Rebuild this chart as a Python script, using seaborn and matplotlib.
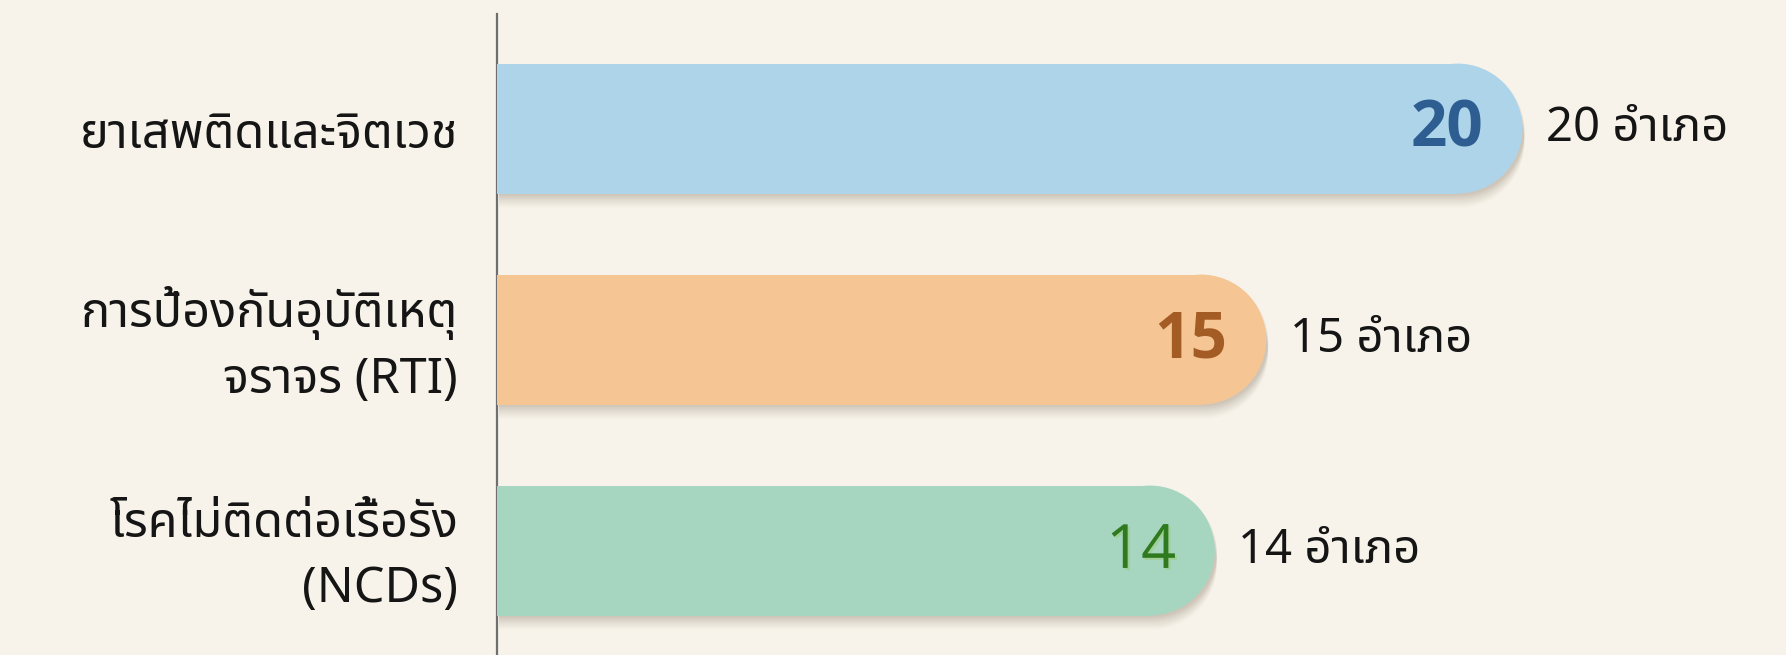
import numpy as np
import pandas as pd
import seaborn as sns
import matplotlib
matplotlib.use("Agg")
import matplotlib.pyplot as plt
from matplotlib import font_manager
from matplotlib.ft2font import FT2Font
from matplotlib.patches import Ellipse, Polygon
import matplotlib.transforms as mtransforms
import matplotlib.patheffects as pe

# ---- data ----
categories = ["ยาเสพติดและจิตเวช", "การป้องกันอุบัติเหตุ\nจราจร (RTI)", "โรคไม่ติดต่อเรื้อรัง\n(NCDs)"]
values = [20, 15, 14]
value_labels = ["20 อำเภอ", "15 อำเภอ", "14 อำเภอ"]
bar_colors = ["#AED4EA", "#F6C594", "#A6D6C0"]
number_colors = ["#2E5E91", "#A45C25", "#2F7A1F"]
number_weights = ["bold", "bold", "normal"]

BG = "#F7F3EA"


def find_thai_fonts():
    found = []
    for f in font_manager.fontManager.ttflist:
        try:
            cm = FT2Font(f.fname).get_charmap()
        except Exception:
            continue
        if 0x0E01 in cm and 0x0E33 in cm and 0x0E40 in cm:
            if f.name not in found:
                found.append(f.name)
    return found


def has_bold(name):
    for f in font_manager.fontManager.ttflist:
        if f.name == name and (f.weight in ("bold", 700) or (isinstance(f.weight, int) and f.weight >= 700)):
            return True
    return False


thai = find_thai_fonts()
pref = ["Noto Sans Thai", "Noto Sans Thai UI", "Noto Sans Thai Looped", "Sarabun", "Loma",
        "Garuda", "Kinnari", "Norasi", "Waree", "Umpush", "Tlwg Typo"]
chosen = [p for p in pref if p in thai] + [t for t in thai if t not in pref]

num_font = next((n for n in ["Open Sans", "Noto Sans", "Roboto", "Lato", "DejaVu Sans"] if has_bold(n)),
                "DejaVu Sans")

sns.set_theme(style="white")
plt.rcParams["font.family"] = chosen[:1] + ["DejaVu Sans"]

W, H = 1786, 655
fig = plt.figure(figsize=(W / 100, H / 100), dpi=100)
fig.patch.set_facecolor(BG)
ax_left = 497 / W
ax_top = 641 / H
ax = fig.add_axes([ax_left, 0, 1 - ax_left, ax_top])
ax.set_facecolor(BG)

df = pd.DataFrame({"category": categories, "value": values})
sns.barplot(data=df, x="value", y="category", hue="category", palette=bar_colors,
            orient="h", width=0.616, legend=False, ax=ax, saturation=1)

ax.set_xlim(0, 25.14)
ax.set_ylim(2.495, -0.543)

# convert bars to rounded-end bars with soft shadow
px_per_x = (ax.transData.transform((1, 0))[0] - ax.transData.transform((0, 0))[0])
px_per_y = abs(ax.transData.transform((0, 1))[1] - ax.transData.transform((0, 0))[1])

patches = list(ax.patches)
for p in patches:
    x0, y0 = p.get_x(), p.get_y()
    w, h = p.get_width(), p.get_height()
    color = p.get_facecolor()
    r_px = h * px_per_y / 2
    rx = r_px / px_per_x
    p.set_width(w - rx)
    p.set_linewidth(0)
    p.set_zorder(3)
    ax.add_patch(Ellipse((x0 + w - rx, y0 + h / 2), 2 * rx, h, facecolor=color,
                         linewidth=0, zorder=3))
    t = np.linspace(-np.pi / 2, np.pi / 2, 60)
    cx, cy = x0 + w - rx, y0 + h / 2
    arc = np.column_stack([cx + rx * np.cos(t), cy + (h / 2) * np.sin(t)])
    pts = np.vstack([[x0, y0], arc, [x0, y0 + h]])
    for d, a in [(2, 0.05), (4, 0.05), (6, 0.045), (8, 0.04), (10, 0.035), (12, 0.03), (14, 0.025)]:
        tr = ax.transData + mtransforms.Affine2D().translate(2, -d)
        ax.add_patch(Polygon(pts, closed=True, facecolor="#5e4a33", alpha=a,
                             linewidth=0, transform=tr, zorder=2))

# labels
for i, v in enumerate(values):
    effects = [pe.withSimplePatchShadow(offset=(1.5, -1.5), shadow_rgbFace="#9fcf8f", alpha=0.8)] \
        if i == 2 else []
    ax.annotate(str(v), xy=(v, i), xytext=(-28, -1), textcoords="offset points",
                ha="right", va="center", fontsize=46 if number_weights[i] == "bold" else 44,
                fontweight=number_weights[i], family=num_font,
                color=number_colors[i], zorder=5, path_effects=effects)
    ax.annotate(value_labels[i], xy=(v, i), xytext=(17, 0), textcoords="offset points",
                ha="left", va="center", fontsize=34, color="#151515", zorder=5)

# axes styling
for s in ["top", "right", "bottom"]:
    ax.spines[s].set_visible(False)
ax.spines["left"].set_color("#6f6f6f")
ax.spines["left"].set_linewidth(1.6)
ax.set_xlabel("")
ax.set_ylabel("")
ax.set_xticks([])
ax.tick_params(axis="y", length=0, pad=28, labelsize=35, labelcolor="#151515")
for lab in ax.get_yticklabels():
    lab.set_horizontalalignment("right")
    lab.set_multialignment("right")
    lab.set_linespacing(1.4)
    if "\n" in lab.get_text():
        lab.set_transform(lab.get_transform() + mtransforms.Affine2D().translate(0, 8))

fig.savefig("out.png", dpi=100, facecolor=BG)
